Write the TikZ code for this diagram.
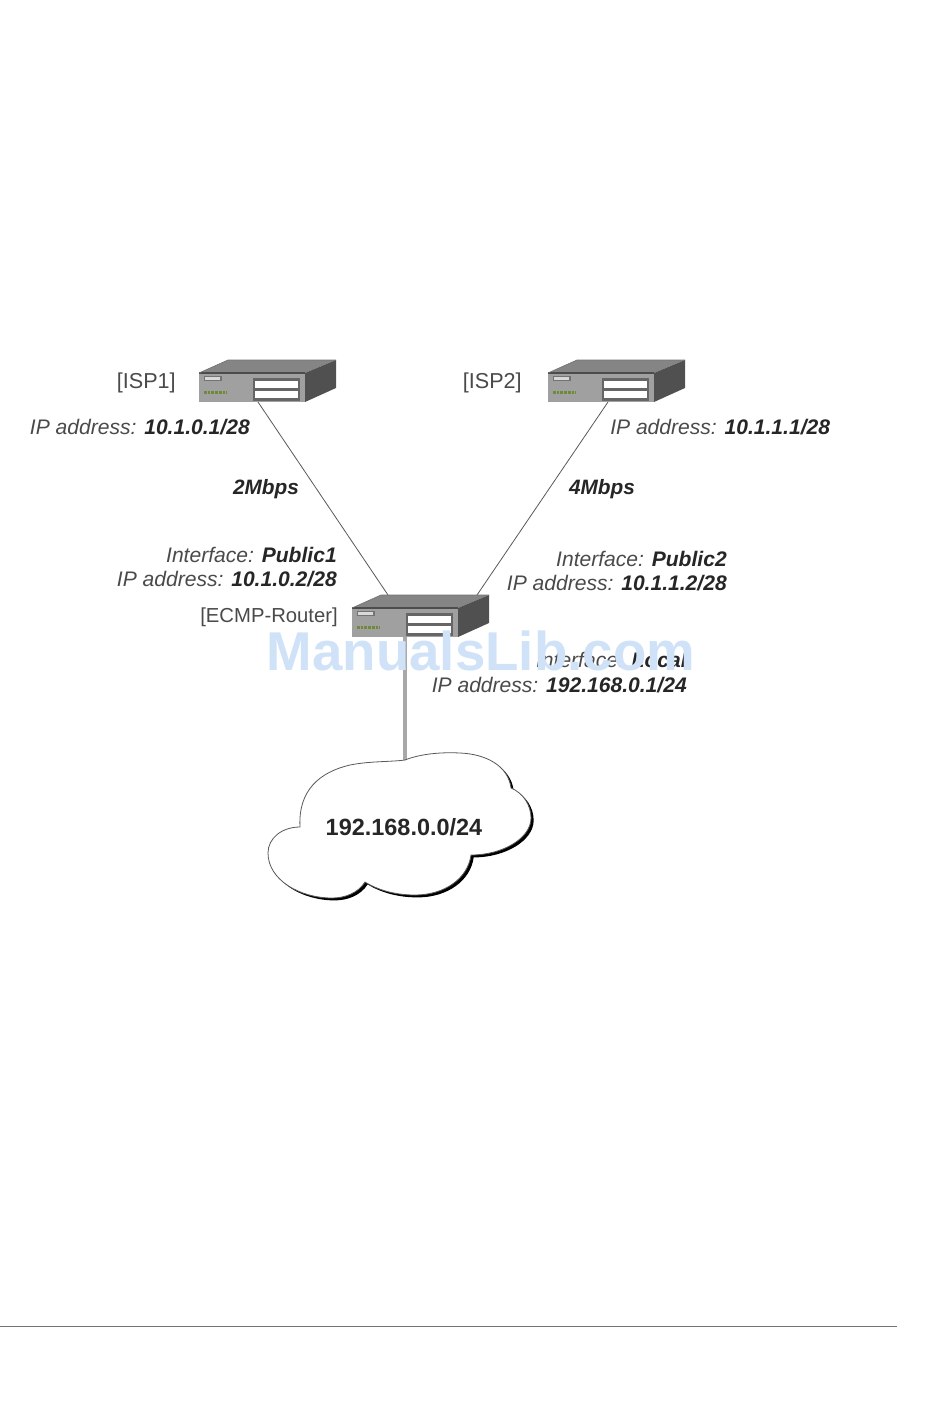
\documentclass[tikz,border=0pt]{standalone}
\usepackage{fontspec}
\setmainfont{Liberation Sans}
\definecolor{txtgray}{HTML}{4A4A4A}
\definecolor{frontc}{HTML}{A0A0A0}
\definecolor{topc}{HTML}{858585}
\definecolor{sidec}{HTML}{505050}
\definecolor{ledc}{HTML}{6F8A3A}
\definecolor{wm}{HTML}{CFE2F8}
\definecolor{trunkc}{HTML}{A8A8A8}
\tikzset{
  x=0.75pt,y=-0.75pt,
  lbl/.style={font=\fontsize{15.8}{18}\selectfont\itshape,text=txtgray,inner sep=0pt},
  tag/.style={font=\fontsize{16.2}{18}\selectfont,text=txtgray,inner sep=0pt},
  speed/.style={font=\fontsize{15.6}{18}\selectfont\bfseries\itshape,text=black!85,inner sep=0pt},
  link/.style={draw=black!65,line width=0.6pt},
  trunkline/.style={draw=trunkc,line width=2.4pt},
  devbox/.pic={
    \fill[topc] (0,0) -- (29,-13) -- (137,-13) -- (106,0) -- cycle;
    \fill[frontc] (0,0) rectangle (106,29);
    \fill[sidec] (106,0) -- (137,-13) -- (137,15) -- (106,29) -- cycle;
    \draw[black!70,line width=1pt] (0,0) -- (106,0);
    \draw[black!55,line width=0.5pt] (0,0) -- (29,-13) -- (137,-13);
    \fill[black!55] (5,3) rectangle (23,8);
    \fill[black!15] (6,4) rectangle (21,7);
    \fill[black!60] (54,5) rectangle (101,28);
    \fill[white] (56,8) rectangle (99,15);
    \fill[white] (56,18) rectangle (99,25);
    \draw[ledc,line width=2.2pt,dash pattern=on 2pt off 0.8pt] (5,19.5) -- (28,19.5);
  }
}
\begin{document}
\begin{tikzpicture}
\useasboundingbox (0,0) rectangle (950,1409);
\fill[white] (0,0) rectangle (950,1409);
\coordinate (ispa) at (199,373);
\coordinate (ispb) at (548,373);
\coordinate (rt) at (352,608);
\coordinate (ispafoot) at (258,402);
\coordinate (ispbfoot) at (608,402);
\coordinate (rtl) at (388,595);
\coordinate (rtr) at (477,595);
\coordinate (rtb) at (405,637);
\coordinate (cloudtop) at (405,760);
\draw[link] (ispafoot) -- (rtl);
\draw[link] (ispbfoot) -- (rtr);
\draw[trunkline] (rtb) -- (cloudtop);
\pic at (ispa) {devbox};
\pic at (ispb) {devbox};
\pic at (rt) {devbox};
\def\cloudpath{(405,760) .. controls (420,754) and (440,752) .. (460,753)
 .. controls (485,754) and (508,765) .. (511,788)
 .. controls (523,793) and (531,805) .. (531,818)
 .. controls (531,838) and (503,855) .. (471,855)
 .. controls (468,878) and (445,895) .. (415,895)
 .. controls (395,895) and (378,890) .. (365,882)
 .. controls (358,893) and (345,898) .. (332,898)
 .. controls (300,898) and (268,880) .. (268,853)
 .. controls (268,838) and (282,827) .. (300,827)
 .. controls (298,790) and (320,772) .. (350,765)
 .. controls (370,761) and (390,762) .. (405,760) -- cycle}
\fill[black] [xshift=2pt,yshift=-1.8pt] \cloudpath;
\fill[white,draw=black!65,line width=0.6pt] \cloudpath;
\node[font=\fontsize{17.6}{20}\selectfont\bfseries,text=black!85,inner sep=0pt] (net) at (404,827) {192.168.0.0/24};
\node[tag,anchor=east] (ta) at (176,383) {[ISP1]};
\node[tag,anchor=east] (tb) at (522,383) {[ISP2]};
\node[tag,anchor=east,font=\fontsize{15.2}{18}\selectfont] (tc) at (338,617) {[ECMP-Router]};
\node[lbl,anchor=east] (ia) at (250,427) {IP address: {\bfseries\color{black!85}10.1.0.1/28}};
\node[lbl,anchor=west] (ib) at (610,427) {IP address: {\bfseries\color{black!85}10.1.1.1/28}};
\node[speed] (sa) at (266,489) {2Mbps};
\node[speed] (sb) at (602,489) {4Mbps};
\node[lbl,anchor=east] (pa) at (337,555) {Interface: {\bfseries\color{black!85}Public1}};
\node[lbl,anchor=east] (qa) at (337,579) {IP address: {\bfseries\color{black!85}10.1.0.2/28}};
\node[lbl,anchor=east] (pb) at (727,559) {Interface: {\bfseries\color{black!85}Public2}};
\node[lbl,anchor=east] (qb) at (727,583) {IP address: {\bfseries\color{black!85}10.1.1.2/28}};
\node[lbl,anchor=east] (pc) at (687,660) {Interface: {\bfseries\color{black!85}Local}};
\node[lbl,anchor=east] (qc) at (687,685) {IP address: {\bfseries\color{black!85}192.168.0.1/24}};
\node[font=\fontsize{41}{45}\selectfont\bfseries,text=wm,inner sep=0pt] (mark) at (481,651) {ManualsLib.com};
\coordinate (rulea) at (0,1326);
\coordinate (ruleb) at (897,1326);
\draw[black!55,line width=0.7pt] (rulea) -- (ruleb);
\end{tikzpicture}
\end{document}
